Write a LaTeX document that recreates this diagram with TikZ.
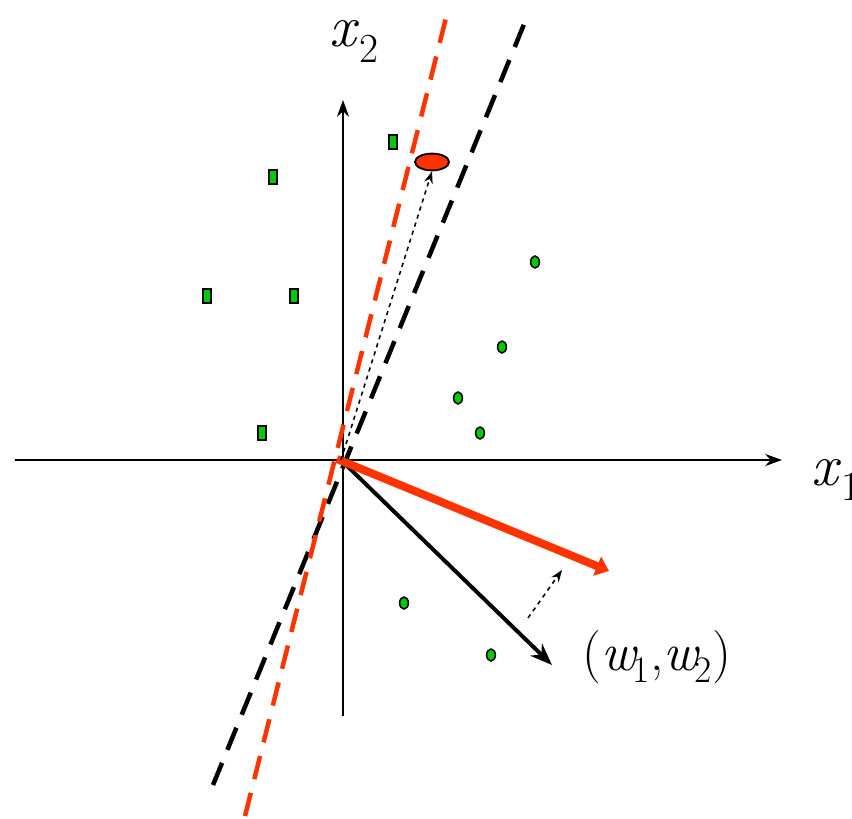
\documentclass[tikz,border=0pt]{standalone}
\usetikzlibrary{arrows.meta,positioning,shapes.geometric}
\definecolor{hotred}{RGB}{255,51,0}
\definecolor{ptgreen}{RGB}{0,204,0}

\begin{document}
\begin{tikzpicture}[x=0.025cm,y=-0.025cm,>=Stealth,
  sqpt/.style={draw=black,fill=ptgreen,line width=1.3pt,minimum width=0.22cm,minimum height=0.36cm,inner sep=0pt},
  rdpt/.style={ellipse,draw=black,fill=ptgreen,line width=1.1pt,minimum width=0.22cm,minimum height=0.3cm,inner sep=0pt},
  axislabel/.style={font=\fontsize{42}{46}\selectfont,inner sep=0pt,anchor=base west},
  sepline/.style={dashed,dash pattern=on 17pt off 10pt,line width=3.2pt}]
\useasboundingbox[fill=white] (0,0) rectangle (852,819);
% axes
\coordinate (xlo) at (15,460);
\coordinate (xhi) at (782,460);
\coordinate (ylo) at (343,716);
\coordinate (yhi) at (343,100);
\coordinate (org) at (341,460);
\draw[line width=1.4pt,-{Stealth[length=0.42cm,width=0.3cm]}] (xlo)--(xhi);
\draw[line width=1.4pt,-{Stealth[length=0.42cm,width=0.3cm]}] (ylo)--(yhi);
\node[axislabel] (lx1) at (811,485) {\textit{x}\textsubscript{1}};
\node[axislabel] (lx2) at (329,47) {\textit{x}\textsubscript{2}};
% separating lines
\coordinate (blo) at (213,785);
\coordinate (bhi) at (529,12);
\coordinate (rlo) at (245,816);
\coordinate (rhi) at (448,10);
\draw[sepline,black] (blo)--(bhi);
\draw[sepline,hotred] (rlo)--(rhi);
% points
\node[sqpt] (s1) at (393,142) {};
\node[sqpt] (s2) at (273,177) {};
\node[sqpt] (s3) at (207,296) {};
\node[sqpt] (s4) at (294,296) {};
\node[sqpt] (s5) at (262,433) {};
\node[rdpt] (c1) at (535,262) {};
\node[rdpt] (c2) at (502,347) {};
\node[rdpt] (c3) at (458,398) {};
\node[rdpt] (c4) at (480,433) {};
\node[rdpt] (c5) at (404,603) {};
\node[rdpt] (c6) at (491,655) {};
\node[ellipse,draw=black,fill=hotred,line width=1.3pt,minimum width=0.85cm,minimum height=0.42cm,inner sep=0pt] (bad) at (432,162) {};
% weight vectors
\coordinate (wend) at (552,665);
\coordinate (wnew) at (609,571);
\coordinate (nudge0) at (528,618);
\coordinate (nudge1) at (562,570);
\draw[line width=2.8pt,-{Stealth[length=0.55cm,width=0.42cm]}] (org)--(wend);
\draw[hotred,line width=5.7pt,-{Triangle[length=0.32cm,width=0.5cm]}] (337,459)--(wnew);
\draw[dashed,line width=1.1pt,-{Stealth[length=0.3cm,width=0.22cm]}] (org)--(bad.south);
\draw[dashed,line width=1.1pt,-{Stealth[length=0.3cm,width=0.22cm]}] (nudge0)--(nudge1);
\node[font=\fontsize{38}{42}\selectfont,inner sep=0pt,anchor=base west] (wlab) at (582,670) {(\textit{w}\kern-0.1em\textsubscript{1},\textit{w}\kern-0.1em\textsubscript{2})};
\end{tikzpicture}
\end{document}
